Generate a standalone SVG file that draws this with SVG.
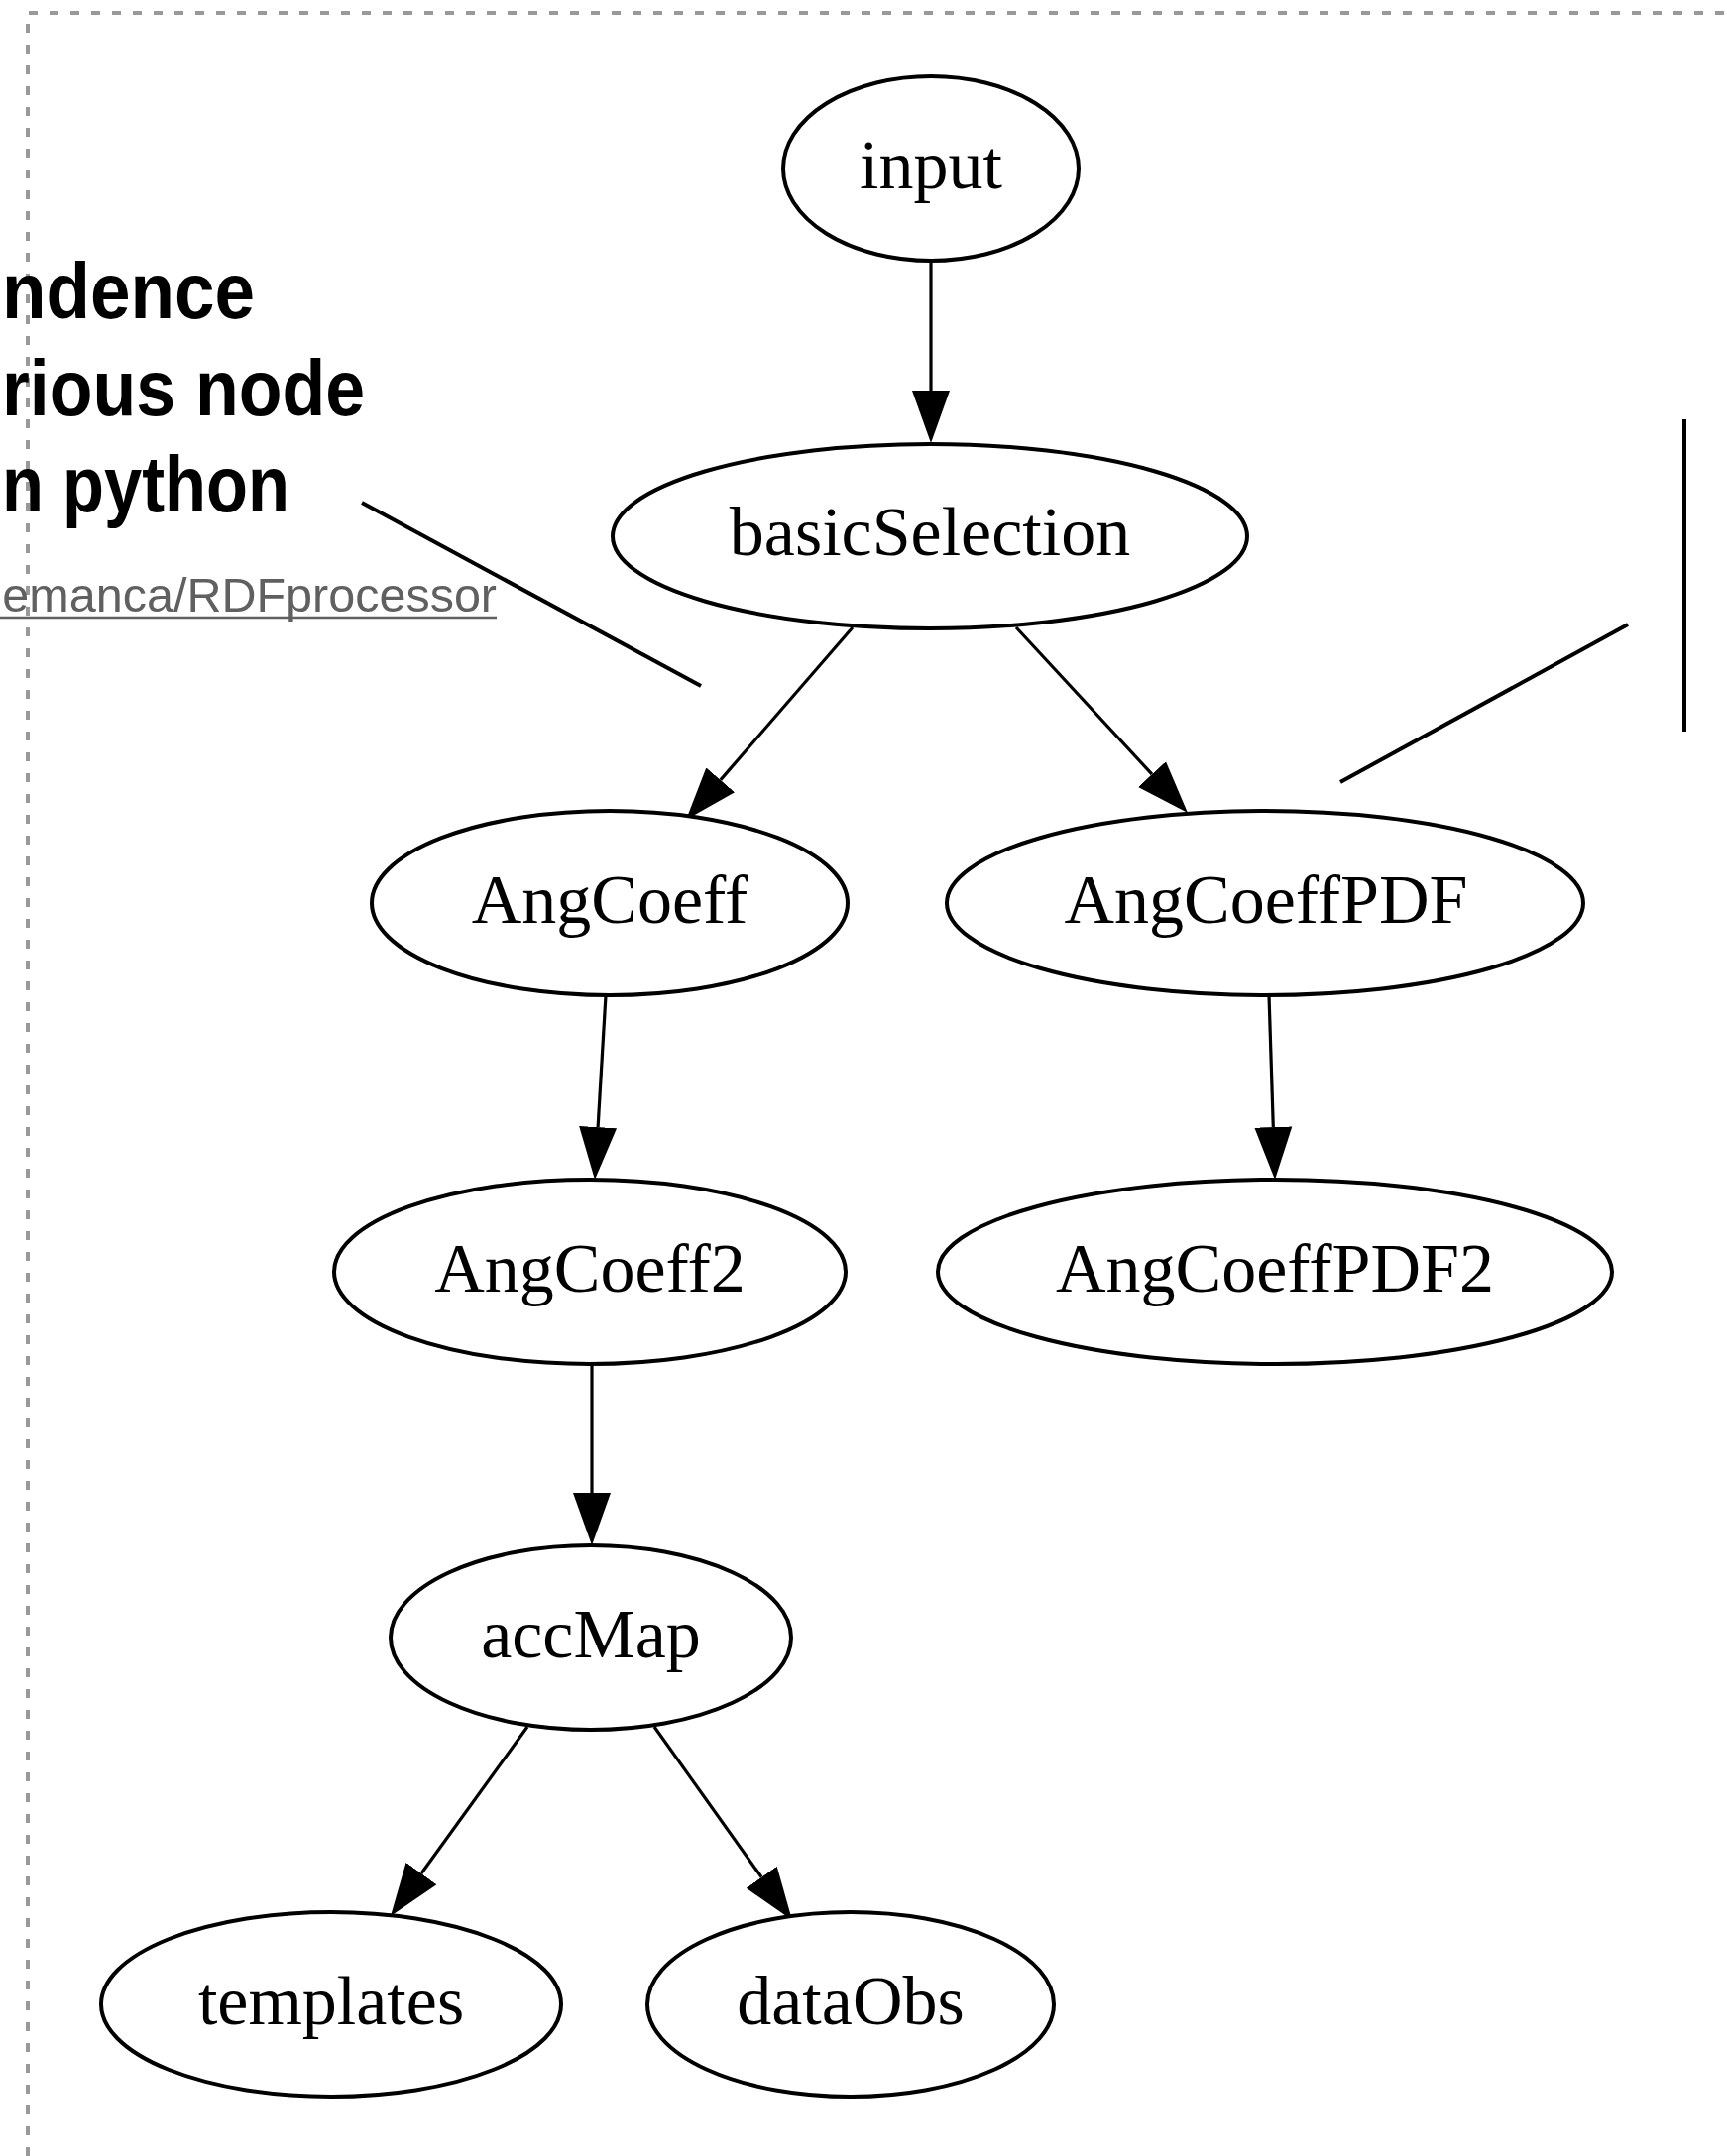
<svg xmlns="http://www.w3.org/2000/svg" width="1742" height="2175" viewBox="0 0 1742 2175">
<style>
.node ellipse{fill:#fff;stroke:#000;stroke-width:4}
.node text{font-family:"Liberation Serif","Times New Roman",serif;font-size:70px;text-anchor:middle;fill:#000}
.edge{fill:none;stroke:#000;stroke-width:3.2}
.ann{stroke:#000;stroke-width:4;fill:none}
.head{font-family:"Liberation Sans",Arial,Helvetica,sans-serif;font-weight:bold;font-size:80px;fill:#000}
.link{font-family:"Liberation Sans",Arial,Helvetica,sans-serif;font-size:48.5px;fill:#606060;text-anchor:end}
</style>
<defs>
<marker id="arr" markerUnits="userSpaceOnUse" markerWidth="60" markerHeight="50" viewBox="0 -25 60 50" refX="0" refY="0" orient="auto">
<path d="M0,-19 L53,0 L0,19 Z" fill="#000"/>
</marker>
</defs>
<rect width="1742" height="2175" fill="#fff"/>
<g id="frame">
<path d="M28,2175 L28,13 L1742,13" fill="none" stroke="#999" stroke-width="4" stroke-dasharray="9 12"/>
</g>
<g id="annotations">
<text class="head" x="2" y="321" textLength="255" lengthAdjust="spacingAndGlyphs">ndence</text>
<text class="head" x="2" y="419" textLength="366" lengthAdjust="spacingAndGlyphs">rious node</text>
<text class="head" x="2" y="516" textLength="290" lengthAdjust="spacingAndGlyphs">n python</text>
<text class="link" x="501" y="617">emanca/RDFprocessor</text>
<line x1="0" y1="623" x2="501" y2="623" stroke="#606060" stroke-width="2.5"/>
<line class="ann" x1="365" y1="507" x2="707" y2="692"/>
<line class="ann" x1="1642" y1="630" x2="1352" y2="789"/>
<line class="ann" x1="1699" y1="423" x2="1699" y2="738"/>
</g>
<g id="connectors">
<path class="edge" d="M939,263 L939,394" marker-end="url(#arr)"/>
<path class="edge" d="M860,633 L726.7,786.9" marker-end="url(#arr)"/>
<path class="edge" d="M1025,633 L1162,781.1" marker-end="url(#arr)"/>
<path class="edge" d="M611,1004 L603.1,1137.1" marker-end="url(#arr)"/>
<path class="edge" d="M1280,1004 L1284.3,1137" marker-end="url(#arr)"/>
<path class="edge" d="M597,1376 L597,1506" marker-end="url(#arr)"/>
<path class="edge" d="M532,1742 L425,1890" marker-end="url(#arr)"/>
<path class="edge" d="M660,1742 L768.2,1893.8" marker-end="url(#arr)"/>
</g>
<g id="input" class="node"><ellipse cx="939" cy="170" rx="149" ry="93"/><text x="939" y="190">input</text></g>
<g id="basicSelection" class="node"><ellipse cx="938" cy="541" rx="320" ry="93"/><text x="938" y="560">basicSelection</text></g>
<g id="AngCoeff" class="node"><ellipse cx="615" cy="911" rx="240" ry="93"/><text x="615" y="931">AngCoeff</text></g>
<g id="AngCoeffPDF" class="node"><ellipse cx="1276" cy="911" rx="321" ry="93"/><text x="1277" y="931">AngCoeffPDF</text></g>
<g id="AngCoeff2" class="node"><ellipse cx="595" cy="1283" rx="258" ry="93"/><text x="595" y="1303">AngCoeff2</text></g>
<g id="AngCoeffPDF2" class="node"><ellipse cx="1286" cy="1283" rx="340" ry="93"/><text x="1286" y="1303">AngCoeffPDF2</text></g>
<g id="accMap" class="node"><ellipse cx="596" cy="1652" rx="202" ry="93"/><text x="596" y="1672">accMap</text></g>
<g id="templates" class="node"><ellipse cx="334" cy="2022" rx="232" ry="93"/><text x="334" y="2042">templates</text></g>
<g id="dataObs" class="node"><ellipse cx="858" cy="2022" rx="205" ry="93"/><text x="858" y="2042">dataObs</text></g>
</svg>
